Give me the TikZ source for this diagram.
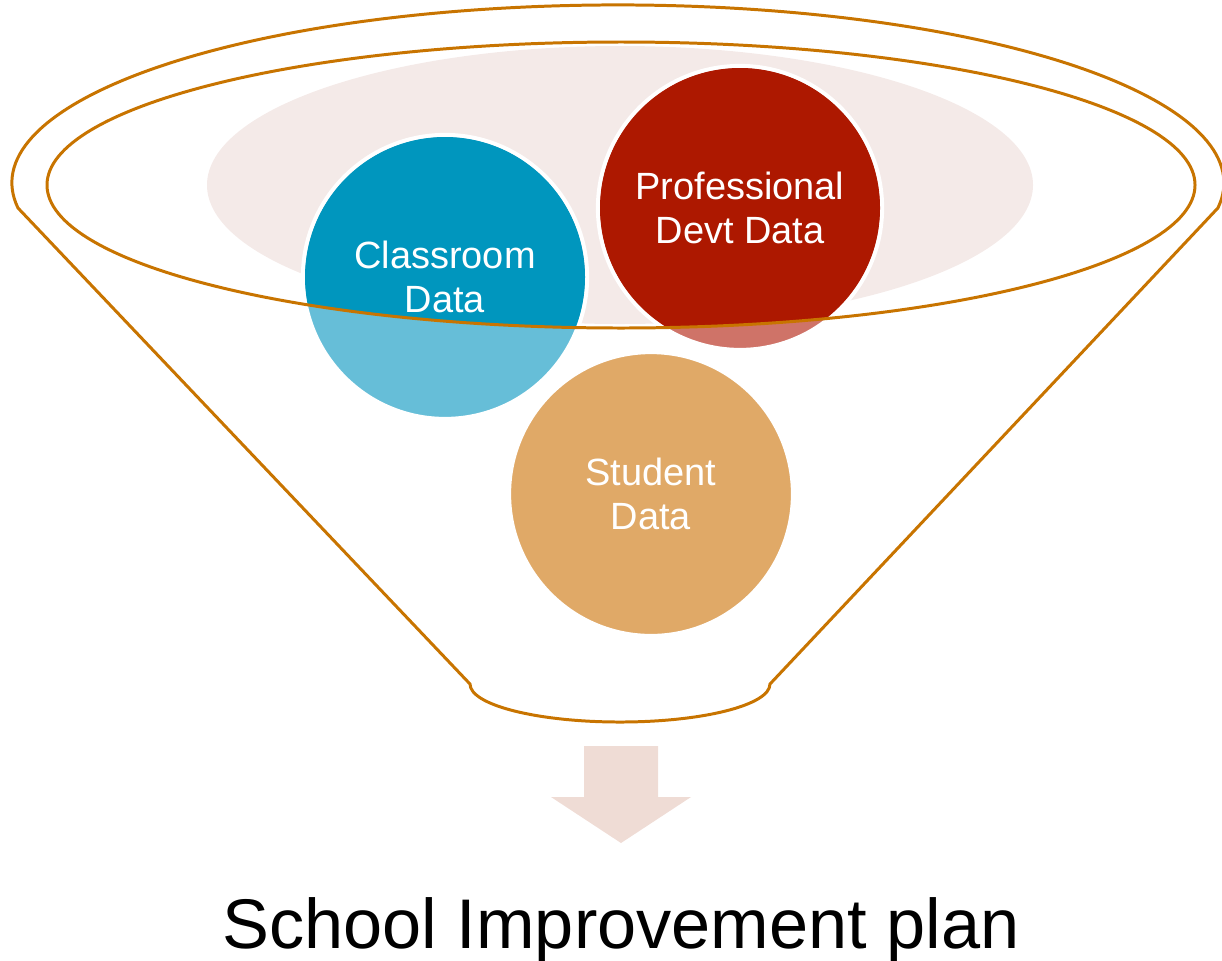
\documentclass[tikz,border=0pt]{standalone}
\usepackage{fontspec}
\setmainfont{Liberation Sans}
\usetikzlibrary{positioning}
\definecolor{rim}{HTML}{C87400}
\definecolor{haze}{HTML}{F4EAE8}
\definecolor{classdark}{HTML}{0096BE}
\definecolor{classlight}{HTML}{66BED8}
\definecolor{devdark}{HTML}{AD1800}
\definecolor{devlight}{HTML}{CF7368}
\definecolor{studentfill}{HTML}{E0A967}
\definecolor{arrowfill}{HTML}{EFDCD5}

\begin{document}
\begin{tikzpicture}[
  funnel/.style={draw=rim, line width=0.85pt},
  disc/.style={circle, draw=white, line width=1.2pt, minimum size=2.84cm, inner sep=0pt},
  disctext/.style={align=center, text=white, font=\fontsize{10.8}{12.3}\selectfont},
]
  \useasboundingbox (0,0) rectangle (12.22,9.60);

  % soft backdrop inside the rim
  \fill[haze] (6.20,7.75) ellipse[x radius=4.13, y radius=1.39];

  % funnel body: back of the rim, two sides and the spout
  \draw[funnel] (0.18,7.52) arc[start angle=188.1, end angle=-8.1, x radius=6.06, y radius=1.78]
    -- (7.70,2.76) arc[start angle=0, end angle=-180, x radius=1.50, y radius=0.38] -- cycle;

  % the three data discs, pale where they hang below the rim
  \node[disc, fill=classlight] (classroom) at (4.45,6.83) {};
  \node[disc, fill=devlight] (profdev) at (7.40,7.52) {};
  \node[disc, fill=studentfill] (student) at (6.51,4.66) {};

  \begin{scope}
    \clip (6.21,7.75) ellipse[x radius=5.74, y radius=1.43];
    \fill[classdark] (classroom) circle[radius=1.40];
    \fill[devdark] (profdev) circle[radius=1.40];
  \end{scope}

  \node[disctext] (classroom-text) at (classroom) {Classroom\\Data};
  \node[disctext] (profdev-text) at (profdev) {Professional\\Devt Data};
  \node[disctext] (student-text) at (student) {Student\\Data};

  % front of the rim
  \draw[funnel] (6.21,7.75) ellipse[x radius=5.74, y radius=1.43];

  % output arrow
  \fill[arrowfill] (5.84,2.14) -- (6.58,2.14) -- (6.58,1.63) -- (6.91,1.63)
    -- (6.21,1.17) -- (5.51,1.63) -- (5.84,1.63) -- cycle;

  \node[anchor=base, font=\fontsize{20}{24}\selectfont] (plan) at (6.21,0.12) {School Improvement plan};
\end{tikzpicture}
\end{document}
